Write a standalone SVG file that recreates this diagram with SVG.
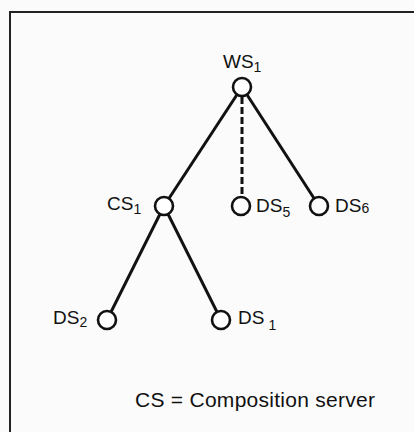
<svg xmlns="http://www.w3.org/2000/svg" width="414" height="432" viewBox="0 0 414 432">
<style>
.lbl{font-family:"Liberation Sans",Arial,sans-serif;font-size:19px;fill:#111}
.sub{font-size:14px}
.node{fill:#fff;stroke:#111;stroke-width:2.6}
.edge{stroke:#111;stroke-width:3;fill:none}
.dash{stroke-dasharray:7 3}
</style>
<rect x="0" y="0" width="414" height="432" fill="#fbfbfb"/>
<path d="M10,432 V12 H414" fill="none" stroke="#222" stroke-width="2"/>
<g id="connectors">
<line class="edge" x1="242" y1="87" x2="164" y2="206"/>
<line class="edge dash" x1="242" y1="97" x2="242" y2="196"/>
<line class="edge" x1="242" y1="87" x2="319" y2="206"/>
<line class="edge" x1="164" y1="206" x2="107" y2="320"/>
<line class="edge" x1="164" y1="206" x2="221" y2="320"/>
</g>
<g id="WS1"><circle class="node" cx="242" cy="87" r="9"/><text class="lbl" x="223" y="68">WS<tspan class="sub" dy="4">1</tspan></text></g>
<g id="CS1"><circle class="node" cx="164" cy="206" r="9"/><text class="lbl" x="107" y="210">CS<tspan class="sub" dy="4">1</tspan></text></g>
<g id="DS5"><circle class="node" cx="241" cy="206" r="9"/><text class="lbl" x="256" y="212">DS<tspan class="sub" dy="5">5</tspan></text></g>
<g id="DS6"><circle class="node" cx="319" cy="206" r="9"/><text class="lbl" x="335" y="212">DS<tspan class="sub" dy="1">6</tspan></text></g>
<g id="DS2"><circle class="node" cx="107" cy="320" r="9"/><text class="lbl" x="53" y="324">DS<tspan class="sub" dy="3">2</tspan></text></g>
<g id="DS1"><circle class="node" cx="221" cy="320" r="9"/><text class="lbl" x="238" y="324">DS<tspan class="sub" dx="4" dy="6">1</tspan></text></g>
<g id="caption"><text class="lbl" x="135" y="407" style="font-size:21px" textLength="240">CS = Composition server</text></g>
</svg>
